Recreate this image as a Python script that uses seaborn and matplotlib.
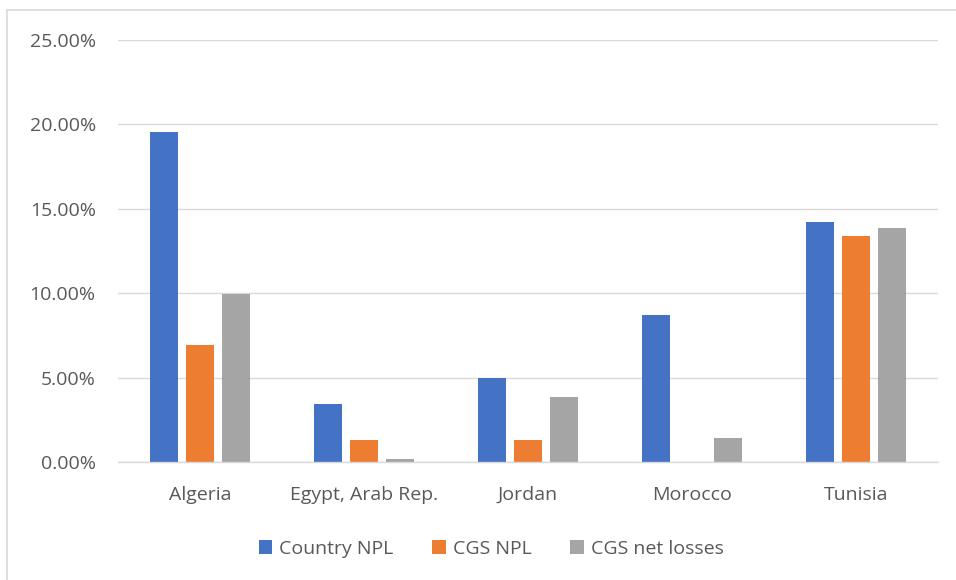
import matplotlib
matplotlib.use("Agg")
import matplotlib.pyplot as plt
import seaborn as sns
import pandas as pd
from matplotlib.ticker import PercentFormatter, MultipleLocator
from matplotlib.lines import Line2D

countries = ["Algeria", "Egypt, Arab Rep.", "Jordan", "Morocco", "Tunisia"]
country_npl = [19.55, 3.44, 4.97, 8.70, 14.23]
cgs_npl = [6.93, 1.30, 1.31, 0.0, 13.38]
cgs_net_losses = [9.96, 0.19, 3.83, 1.43, 13.86]
series_names = ["Country NPL", "CGS NPL", "CGS net losses"]
colors = ["#4472C4", "#ED7D31", "#A5A5A5"]

rows = []
for name, vals in zip(series_names, [country_npl, cgs_npl, cgs_net_losses]):
    for c, v in zip(countries, vals):
        rows.append({"Country": c, "Series": name, "Value": v})
df = pd.DataFrame(rows)

sns.set_theme(style="white")
plt.rcParams["font.family"] = ["Open Sans", "DejaVu Sans"]
text_color = "#595959"
fs = 14

fig = plt.figure(figsize=(9.56, 5.8), dpi=100)
ax = fig.add_axes([118/956, 1-462/580, (938-118)/956, (462-40)/580])

sns.barplot(data=df, x="Country", y="Value", hue="Series", order=countries,
            hue_order=series_names, palette=colors, width=0.66, gap=0.22,
            linewidth=0, saturation=1, ax=ax, legend=True)

ax.set_ylim(0, 25)
ax.set_xlim(-0.5, 4.5)
ax.yaxis.set_major_locator(MultipleLocator(5))
ax.yaxis.set_major_formatter(PercentFormatter(decimals=2))
ax.grid(axis="y", color="#D9D9D9", linewidth=1)
ax.set_axisbelow(True)
for s in ["left", "right", "top"]:
    ax.spines[s].set_visible(False)
ax.spines["bottom"].set_color("#D9D9D9")
ax.spines["bottom"].set_linewidth(1)
ax.tick_params(axis="both", length=0, labelsize=fs, colors=text_color)
ax.tick_params(axis="y", pad=16)
ax.tick_params(axis="x", pad=17)
ax.set_xlabel("")
ax.set_ylabel("")

leg = ax.legend(loc="upper center", bbox_to_anchor=(0.455, -0.143), ncol=3,
                frameon=False, fontsize=fs, handlelength=0.7, handleheight=0.7,
                handletextpad=0.35, columnspacing=2.0, labelcolor=text_color)

# outer frame: only top and left edges are visible in the reference crop
fig.lines.append(Line2D([6.5/956, 1.0], [1-9.5/580, 1-9.5/580],
                        transform=fig.transFigure, color="#D9D9D9", linewidth=1.2))
fig.lines.append(Line2D([6.5/956, 6.5/956], [0.0, 1-9.5/580],
                        transform=fig.transFigure, color="#D9D9D9", linewidth=1.2))

fig.savefig("out.png", dpi=100)
